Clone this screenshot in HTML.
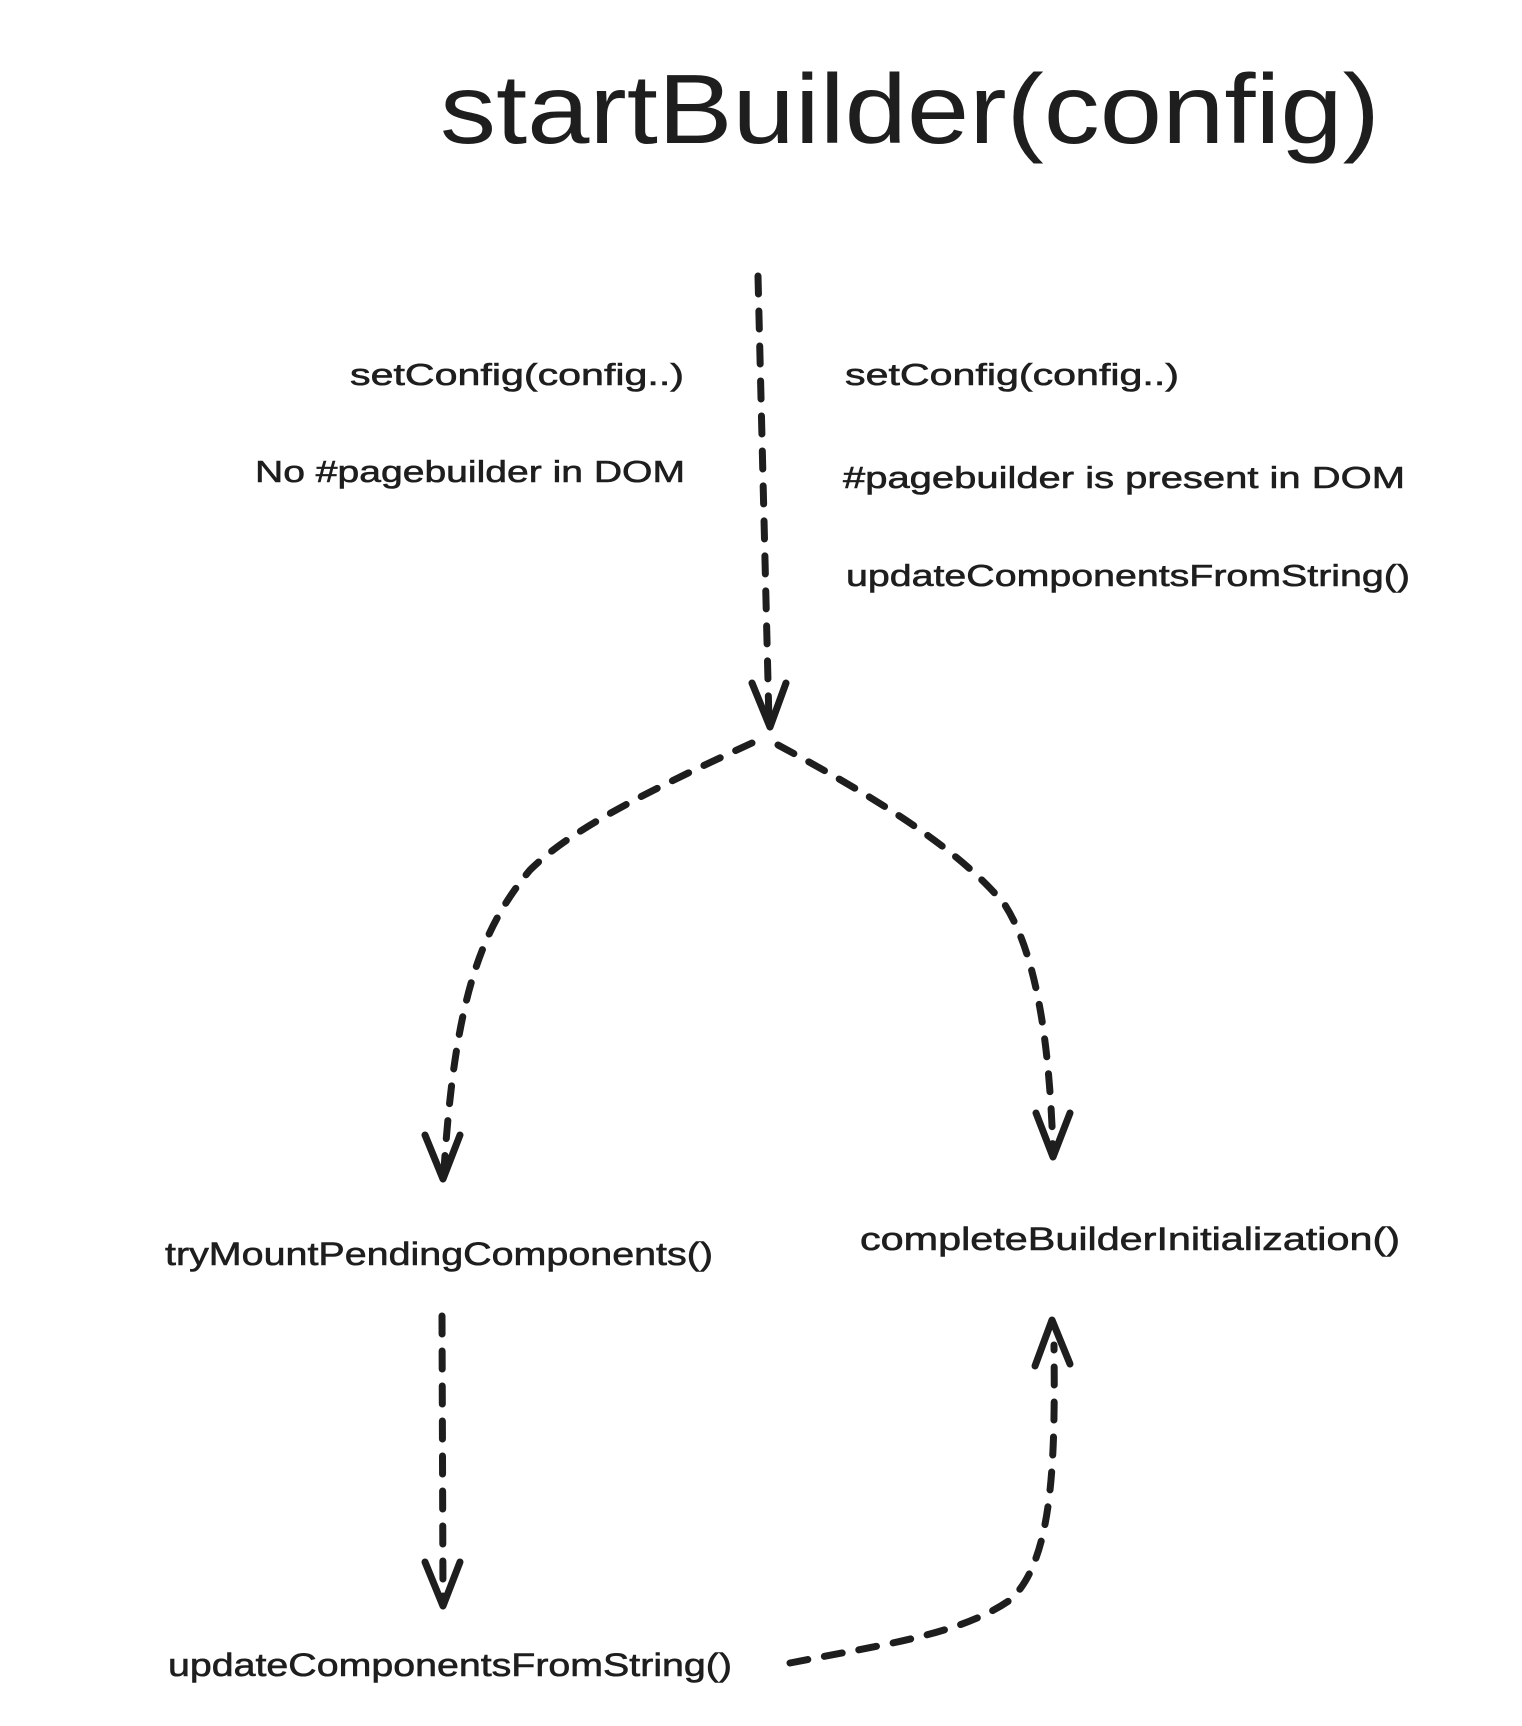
<!DOCTYPE html>
<html><head><meta charset="utf-8"><style>
html,body{margin:0;padding:0;background:#fff;}
svg{display:block;}
text{font-family:"Liberation Sans",sans-serif;fill:#1e1e1e;}
.s{stroke:#1e1e1e;stroke-width:0.6;}
</style></head><body>
<svg width="1522" height="1726" viewBox="0 0 1522 1726" xmlns="http://www.w3.org/2000/svg">
<text x="440" y="143" font-size="98" textLength="940" lengthAdjust="spacingAndGlyphs">startBuilder(config)</text>

<text class="s" x="350" y="385" font-size="31" textLength="334" lengthAdjust="spacingAndGlyphs">setConfig(config..)</text>
<text class="s" x="255" y="482" font-size="31" textLength="430" lengthAdjust="spacingAndGlyphs">No #pagebuilder in DOM</text>
<text class="s" x="845" y="385" font-size="31" textLength="334" lengthAdjust="spacingAndGlyphs">setConfig(config..)</text>
<text class="s" x="843" y="488" font-size="31" textLength="562" lengthAdjust="spacingAndGlyphs">#pagebuilder is present in DOM</text>
<text class="s" x="846" y="586" font-size="31" textLength="564" lengthAdjust="spacingAndGlyphs">updateComponentsFromString()</text>

<text class="s" x="165" y="1265" font-size="32" textLength="548" lengthAdjust="spacingAndGlyphs">tryMountPendingComponents()</text>
<text class="s" x="860" y="1250" font-size="32" textLength="540" lengthAdjust="spacingAndGlyphs">completeBuilderInitialization()</text>
<text class="s" x="168" y="1676" font-size="32" textLength="564" lengthAdjust="spacingAndGlyphs">updateComponentsFromString()</text>

<g fill="none" stroke="#1e1e1e" stroke-width="7" stroke-linecap="round" stroke-linejoin="round">
  <g stroke-dasharray="18 17">
    <path d="M758 276 L769 722"/>
    <path d="M752 743 C650 790 570 830 530 870 C480 930 455 1000 444 1170"/>
    <path d="M778 745 C880 800 960 850 1005 905 C1040 960 1050 1060 1053 1150"/>
    <path d="M442 1316 L443 1600"/>
    <path d="M790 1663 C880 1645 960 1635 1010 1600 C1055 1560 1055 1450 1054 1345"/>
  </g>
  <path d="M752 683 L770 727 L786 683"/>
  <path d="M425 1135 L443 1179 L460 1135"/>
  <path d="M1036 1113 L1053 1157 L1070 1113"/>
  <path d="M425 1562 L443 1606 L460 1562"/>
  <path d="M1035 1366 L1052 1320 L1070 1364"/>
</g>
</svg>
</body></html>
